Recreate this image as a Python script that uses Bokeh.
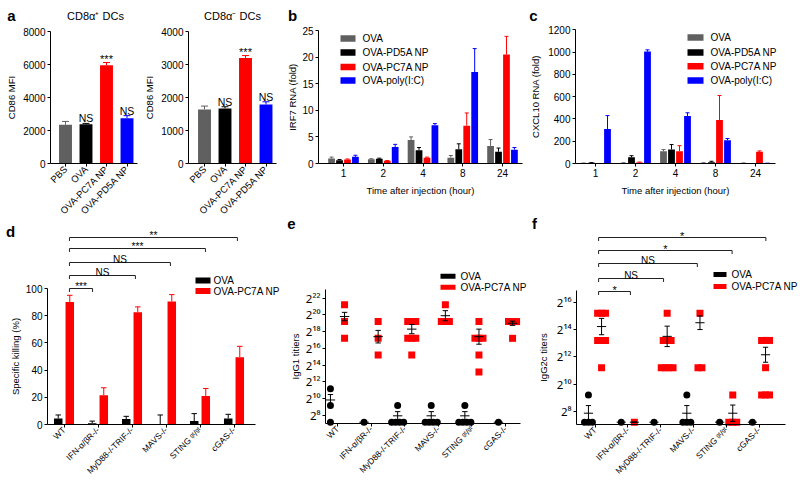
import math
from bokeh.plotting import figure
from bokeh.models import FixedTicker, Label
from bokeh.layouts import row, column
from bokeh.embed import file_html
from bokeh.resources import INLINE
from bokeh.core.properties import value

FONT = "Liberation Sans"

# ---------------- Panel a : CD86 MFI ----------------
a_groups = ["PBS", "OVA", "OVA-PC7A NP", "OVA-PD5A NP"]
a_colors = ["#606060", "#000000", "#ff0000", "#0000ff"]
cd8pos_mfi = [2350, 2380, 5950, 2750]
cd8pos_err = [200, 50, 170, 150]
cd8pos_sig = ["", "NS", "***", "NS"]
cd8neg_mfi = [1640, 1670, 3200, 1790]
cd8neg_err = [100, 50, 70, 80]
cd8neg_sig = ["", "NS", "***", "NS"]

# ---------------- Panels b, c : RNA fold ----------------
hours = ["1", "2", "4", "8", "24"]
rna_series = ["OVA", "OVA-PD5A NP", "OVA-PC7A NP", "OVA-poly(I:C)"]
rna_colors = ["#606060", "#000000", "#ff0000", "#0000ff"]
irf7_ova = [0.95, 0.8, 4.4, 1.1, 3.3]
irf7_ova_err = [0.25, 0.1, 0.6, 0.4, 1.2]
irf7_pd5a = [0.6, 0.9, 2.5, 2.7, 2.2]
irf7_pd5a_err = [0.15, 0.1, 0.5, 1.0, 0.7]
irf7_pc7a = [0.75, 0.5, 1.1, 7.1, 20.5]
irf7_pc7a_err = [0.1, 0.05, 0.1, 2.4, 3.4]
irf7_poly = [1.25, 3.1, 7.2, 17.2, 2.6]
irf7_poly_err = [0.3, 0.5, 0.3, 4.4, 0.4]
cxcl10_ova = [3, 5, 110, 5, 3]
cxcl10_ova_err = [1, 2, 15, 2, 2]
cxcl10_pd5a = [6, 55, 125, 12, 0]
cxcl10_pd5a_err = [2, 15, 45, 8, 0]
cxcl10_pc7a = [0, 10, 110, 390, 105]
cxcl10_pc7a_err = [0, 3, 50, 220, 8]
cxcl10_poly = [310, 1005, 427, 209, 2]
cxcl10_poly_err = [120, 15, 28, 15, 1]

# ---------------- Panels d, e, f ----------------
strains = ["WT", "IFN-α/βR-/-", "MyD88-/-TRIF-/-", "MAVS-/-", "STING ᵍᵗ/ᵍᵗ", "cGAS-/-"]
treatments = ["OVA", "OVA-PC7A NP"]
treat_colors = ["#000000", "#ff0000"]
kill_ova = [4.5, 1.0, 4.0, 0.0, 2.5, 4.5]
kill_ova_err = [2.5, 1.5, 2.0, 7.0, 5.5, 3.0]
kill_pc7a = [90.0, 21.5, 82.5, 90.5, 21.0, 49.5]
kill_pc7a_err = [5.0, 5.5, 4.0, 5.0, 5.5, 8.0]
kill_sig = ["***", "NS", "NS", "***", "**"]

# titers as log2 exponents
igg1_ova = [[11.2, 9.2, 7.2], [7.2], [9.2, 7.2, 7.2, 7.2, 7.2], [9.2, 7.2, 7.2, 7.2, 7.2],
            [9.2, 7.2, 7.2, 7.2, 7.2], [7.2]]
igg1_pc7a = [[21.2, 19.2, 17.2], [19.2, 17.2, 15.2], [19.2, 19.2, 19.2, 17.2, 17.2, 17.2, 15.2],
             [21.2, 19.2, 19.2, 19.2], [19.2, 17.2, 17.2, 17.2, 15.2, 13.2], [19.2, 19.2, 19.2, 17.2]]
igg1_ova_mean = [9.85, 7.2, 7.96, 7.96, 7.96, 7.2]
igg1_ova_sem = [0.65, 0.0, 0.5, 0.5, 0.5, 0.0]
igg1_pc7a_mean = [19.8, 17.4, 18.3, 19.9, 17.4, 19.0]
igg1_pc7a_sem = [0.5, 0.75, 0.55, 0.6, 0.9, 0.25]
igg1_ticks = [8, 10, 12, 14, 16, 18, 20, 22]

igg2c_ova = [[9.2, 7.2, 7.2, 7.2], [7.2], [7.2], [9.2, 7.2, 7.2, 7.2], [7.2], [7.2]]
igg2c_pc7a = [[15.2, 15.2, 15.2, 13.2, 13.2, 13.2, 11.2], [7.2],
              [15.2, 13.2, 13.2, 13.2, 11.2, 11.2, 11.2, 11.2], [15.2, 11.2, 11.2],
              [9.2, 7.2, 7.2, 7.2], [13.2, 13.2, 13.2, 11.2, 9.2, 9.2, 9.2]]
igg2c_ova_mean = [7.86, 7.2, 7.2, 7.86, 7.2, 7.2]
igg2c_ova_sem = [0.56, 0.0, 0.0, 0.56, 0.0, 0.0]
igg2c_pc7a_mean = [14.22, 7.2, 13.5, 14.5, 7.86, 12.15]
igg2c_pc7a_sem = [0.6, 0.0, 0.75, 0.5, 0.6, 0.55]
igg2c_ticks = [8, 10, 12, 14, 16]
igg2c_sig = ["*", "NS", "NS", "*", "*"]

SUP = str.maketrans("0123456789", "⁰¹²³⁴⁵⁶⁷⁸⁹")

SPLIT_LEFT = 222   # page pixel where panel d starts (below panel a)
SPLIT_RIGHT = 214  # page pixel where panels e, f start (below b, c)
MID = 528          # page pixel between the middle and right columns
BOTTOM = 487


# ---------------- helpers ----------------
def lin(v0, p0, v1, p1):
    k = (v1 - v0) / (p1 - p0)
    return lambda px: v0 + (px - p0) * k


def make_fig(box, xm, ym, ax_x, ax_y, xend, ytop):
    """box: page pixels (l, t, r, b); the whole canvas is the frame,
    axes are pinned at page pixel ax_x (y axis) and ax_y (x axis)."""
    bl, bt, br, bb = box
    fx, fy = lin(*xm), lin(*ym)
    p = figure(width=br - bl, height=bb - bt,
               x_range=(fx(bl), fx(br)), y_range=(fy(bb), fy(bt)),
               min_border=0, min_border_left=0, min_border_right=0,
               min_border_top=0, min_border_bottom=0,
               output_backend="svg", toolbar_location=None, tools="", title=None)
    p.outline_line_color = None
    p.grid.visible = False
    for ax in (p.xaxis[0], p.yaxis[0]):
        ax.axis_line_color = "black"
        ax.axis_line_width = 1
        ax.major_tick_line_color = "black"
        ax.major_tick_in = 0
        ax.major_tick_out = 3
        ax.minor_tick_line_color = None
        ax.major_label_text_font = FONT
        ax.major_label_text_font_size = "10px"
        ax.major_label_text_color = "black"
        ax.axis_label_text_font = FONT
        ax.axis_label_text_font_size = "9.5px"
        ax.axis_label_text_font_style = "normal"
        ax.axis_label_text_color = "black"
        ax.major_label_standoff = 2
    p.yaxis.fixed_location = fx(ax_x)
    p.xaxis.fixed_location = fy(ax_y)
    p.yaxis.bounds = (fy(ax_y), ytop)
    p.xaxis.bounds = (fx(ax_x), fx(xend))
    return p, fx, fy


def label(p, fx, fy, px, py, s, size, bold=False):
    p.add_layout(Label(x=fx(px), y=fy(py), text=s, text_font=FONT, text_font_size=size,
                       text_font_style="bold" if bold else "normal", text_align="center",
                       text_baseline="middle", text_color="black"))


def legend(p, fx, fy, names, colors, rx0, rx1, rh, text_x, rows, size="10px"):
    n = len(names)
    ys = [fy(r) for r in rows]
    p.rect(x=[fx((rx0 + rx1) / 2)] * n, y=ys, width=rx1 - rx0, height=rh,
           width_units="screen", height_units="screen", fill_color=colors, line_color=None)
    p.text(x=[fx(text_x)] * n, y=ys, text=names, text_align="left", text_baseline="middle",
           text_font=value(FONT), text_font_size=size, text_color="black")


def err_bars(p, xs, mean, err, colors, half):
    tops = [m + e for m, e in zip(mean, err)]
    p.segment(x0=xs, y0=mean, x1=xs, y1=tops, line_color=colors, line_width=1)
    p.segment(x0=[x - half for x in xs], y0=tops, x1=[x + half for x in xs], y1=tops,
              line_color=colors, line_width=1)
    return tops


def brackets(p, fy, x0, ends, ys_px, labs, star_size, offs):
    for xe, ypx, lab in zip(ends, ys_px, labs):
        y, yd = fy(ypx), fy(ypx + 3.5)
        p.line([x0, x0, xe, xe], [yd, y, y, yd], line_color="#222222", line_width=1)
        ns = lab == "NS"
        p.text(x=[(x0 + xe) / 2], y=[y], text=[lab], text_align="center",
               text_baseline="alphabetic", y_offset=offs[0] if ns else offs[1],
               text_font=value(FONT), text_font_size="10px" if ns else star_size, text_color="black")


def spread(vals, step):
    counts = {}
    for v in vals:
        counts[v] = counts.get(v, 0) + 1
    seen, out = {}, []
    for v in vals:
        n, k = counts[v], seen.get(v, 0)
        seen[v] = k + 1
        out.append((k - (n - 1) / 2) * step)
    return out


def cat_axis(p, labels, size, rotate):
    p.xaxis.ticker = FixedTicker(ticks=list(range(len(labels))))
    p.xaxis.major_label_overrides = {i: s for i, s in enumerate(labels)}
    p.xaxis.major_label_text_font_size = size
    if rotate:
        p.xaxis.major_label_orientation = math.pi / 4
        p.xaxis.major_label_standoff = 1


# ---------------- Panel a ----------------
def panel_a(box, xm, ym, ax_x, xend, mfi, err, sig, yticks, title, title_x, letter):
    p, fx, fy = make_fig(box, xm, ym, ax_x, 163, xend, yticks[-1])
    xs = list(range(len(a_groups)))
    p.vbar(x=xs, top=mfi, width=0.63, bottom=0, fill_color=a_colors, line_color=None)
    tops = err_bars(p, xs, mfi, err, a_colors, 0.17)
    for s, size, dy in (("NS", "10.5px", -5), ("***", "11px", -4)):
        sel = [i for i in xs if sig[i] == s]
        p.text(x=sel, y=[tops[i] for i in sel], text=[s] * len(sel), text_align="center",
               text_baseline="alphabetic", y_offset=dy, text_font=value(FONT),
               text_font_size=size, text_color="black")
    p.yaxis.ticker = FixedTicker(ticks=yticks)
    p.yaxis.axis_label = "CD86 MFI"
    p.yaxis.axis_label_standoff = 3
    cat_axis(p, a_groups, "9.5px", True)
    label(p, fx, fy, title_x, 15, title, "11px")
    if letter:
        label(p, fx, fy, 11, 15, letter, "15px", bold=True)
    return p


a1 = panel_a((0, 0, 145, SPLIT_LEFT), (0, 65, 1, 85.5), (0, 163, 8000, 31), 50, 137,
             cd8pos_mfi, cd8pos_err, cd8pos_sig, [0, 2000, 4000, 6000, 8000], "CD8α⁺ DCs", 95, "a")
a2 = panel_a((145, 0, 285, SPLIT_LEFT), (0, 204, 1, 224.5), (0, 163, 4000, 31), 188, 276,
             cd8neg_mfi, cd8neg_err, cd8neg_sig, [0, 1000, 2000, 3000, 4000], "CD8α⁻ DCs", 232, None)


# ---------------- Panels b, c ----------------
def rna_panel(box, xm, ym, ax_x, xend, vals, errs, yticks, ylab, ystand,
              rect, text_x, rows, letter_xy, letter):
    p, fx, fy = make_fig(box, xm, ym, ax_x, 163, xend, yticks[-1])
    offs = [-0.3, -0.1, 0.1, 0.3]
    for k in range(len(rna_series)):
        xs = [i + offs[k] for i in range(len(hours))]
        p.vbar(x=xs, top=vals[k], width=0.17, bottom=0, fill_color=rna_colors[k], line_color=None)
        err_bars(p, xs, vals[k], errs[k], rna_colors[k], 0.05)
    p.yaxis.ticker = FixedTicker(ticks=yticks)
    p.yaxis.axis_label = ylab
    p.yaxis.axis_label_standoff = ystand
    cat_axis(p, hours, "10px", False)
    p.xaxis.axis_label = "Time after injection (hour)"
    p.xaxis.axis_label_standoff = 5
    legend(p, fx, fy, rna_series, rna_colors, rect[0], rect[1], 6.5, text_x, rows)
    label(p, fx, fy, letter_xy[0], letter_xy[1], letter, "15px", bold=True)
    return p


pb = rna_panel((285, 0, MID, SPLIT_RIGHT), (0, 343, 1, 382.75), (0, 163, 25, 30), 318, 522,
               [irf7_ova, irf7_pd5a, irf7_pc7a, irf7_poly],
               [irf7_ova_err, irf7_pd5a_err, irf7_pc7a_err, irf7_poly_err],
               [0, 5, 10, 15, 20, 25], "IRF7 RNA (fold)", 1,
               (340, 355), 362, [38, 52, 66.5, 80], (292, 15), "b")
pc = rna_panel((MID, 0, 799, SPLIT_RIGHT), (0, 595, 1, 635), (0, 163, 1200, 29.3), 575, 775,
               [cxcl10_ova, cxcl10_pd5a, cxcl10_pc7a, cxcl10_poly],
               [cxcl10_ova_err, cxcl10_pd5a_err, cxcl10_pc7a_err, cxcl10_poly_err],
               [0, 200, 400, 600, 800, 1000, 1200], "CXCL10 RNA (fold)", 4,
               (687, 703), 710, [37, 52, 65.7, 80], (533, 15), "c")


# ---------------- Panel d ----------------
pd_, fxd, fyd = make_fig((0, SPLIT_LEFT, 285, BOTTOM), (0, 63.5, 1, 97.5), (0, 424, 100, 288),
                         47, 424, 255, 100)
for k, (mean, err) in enumerate(((kill_ova, kill_ova_err), (kill_pc7a, kill_pc7a_err))):
    xs = [i + (-0.17 if k == 0 else 0.17) for i in range(len(strains))]
    pd_.vbar(x=xs, top=mean, width=0.25, bottom=0, fill_color=treat_colors[k], line_color=None)
    err_bars(pd_, xs, mean, err, treat_colors[k], 0.08)
pd_.yaxis.ticker = FixedTicker(ticks=[0, 20, 40, 60, 80, 100])
pd_.yaxis.axis_label = "Specific killing (%)"
pd_.yaxis.axis_label_standoff = 2
cat_axis(pd_, strains, "8.5px", True)
brackets(pd_, fyd, 0.16, [0.84, 2.1, 3.13, 4.16, 5.1], [288, 275, 262, 248, 237],
         kill_sig, "10px", (-3, -2))
legend(pd_, fxd, fyd, treatments, treat_colors, 195, 210, 6, 213, [280, 290.5])
label(pd_, fxd, fyd, 10, 231, "d", "15px", bold=True)


# ---------------- Panels e, f ----------------
def titer_panel(box, xm, ym, ax_x, ax_y, xend, ytop, ova, pc7a, om, osem, pm, psem, ticks, ylab,
                ystand, off, rect, text_x, rows, letter_xy, letter):
    p, fx, fy = make_fig(box, xm, ym, ax_x, ax_y, xend, ytop)
    step = 0.12
    for pts, sgn, marker, color in ((ova, -1, "circle", "black"), (pc7a, 1, "square", "#ff0000")):
        xs, ys = [], []
        for i, vals in enumerate(pts):
            for v, o in zip(vals, spread(vals, step)):
                xs.append(i + sgn * off + o)
                ys.append(v)
        p.scatter(x=xs, y=ys, marker=marker, size=7, fill_color=color, line_color=None)
    for mean, sem, sgn in ((om, osem, -1), (pm, psem, 1)):
        xs = [i + sgn * off for i in range(len(mean))]
        lo = [m - s for m, s in zip(mean, sem)]
        hi = [m + s for m, s in zip(mean, sem)]
        p.segment(x0=[x - 0.14 for x in xs], y0=mean, x1=[x + 0.14 for x in xs], y1=mean,
                  line_color="black", line_width=1)
        p.segment(x0=xs, y0=lo, x1=xs, y1=hi, line_color="black", line_width=1)
        p.segment(x0=[x - 0.08 for x in xs], y0=hi, x1=[x + 0.08 for x in xs], y1=hi,
                  line_color="black", line_width=1)
        p.segment(x0=[x - 0.08 for x in xs], y0=lo, x1=[x + 0.08 for x in xs], y1=lo,
                  line_color="black", line_width=1)
    p.yaxis.ticker = FixedTicker(ticks=ticks)
    p.yaxis.major_label_overrides = {t: "2" + str(t).translate(SUP) for t in ticks}
    p.yaxis.major_label_text_font = "Noto Sans"
    p.yaxis.major_label_text_font_size = "11.5px"
    p.yaxis.axis_label = ylab
    p.yaxis.axis_label_standoff = ystand
    cat_axis(p, strains, "8.5px", True)
    legend(p, fx, fy, treatments, treat_colors, rect[0], rect[1], 5, text_x, rows)
    label(p, fx, fy, letter_xy[0], letter_xy[1], letter, "15px", bold=True)
    return p, fx, fy


pe, fxe, fye = titer_panel((285, SPLIT_RIGHT, MID, BOTTOM), (0, 337, 1, 370.6),
                           (7.2, 421.7, 21.2, 304.3), 325, 423, 520, 23.0,
                           igg1_ova, igg1_pc7a, igg1_ova_mean, igg1_ova_sem,
                           igg1_pc7a_mean, igg1_pc7a_sem, igg1_ticks, "IgG1 titiers", 2, 0.21,
                           (440, 455), 460, [275.7, 286.7], (291, 223), "e")
pf, fxf, fyf = titer_panel((MID, SPLIT_RIGHT, 799, BOTTOM), (0, 594.5, 1, 627.3),
                           (7.2, 421.7, 15.2, 312.7), 576, 424, 785, 16.87,
                           igg2c_ova, igg2c_pc7a, igg2c_ova_mean, igg2c_ova_sem,
                           igg2c_pc7a_mean, igg2c_pc7a_sem, igg2c_ticks, "IgG2c titers", 5, 0.2,
                           (713, 726), 731, [274, 286], (534, 223), "f")
brackets(pf, fyf, 0.11, [1.08, 2.09, 3.12, 4.18, 5.21], [291, 278, 263, 250, 237],
         igg2c_sig, "11px", (-3, -2))

layout = row(column(row(a1, a2), pd_), column(pb, pe), column(pc, pf))
open("out.html", "w").write(file_html(layout, INLINE, title="figure"))
